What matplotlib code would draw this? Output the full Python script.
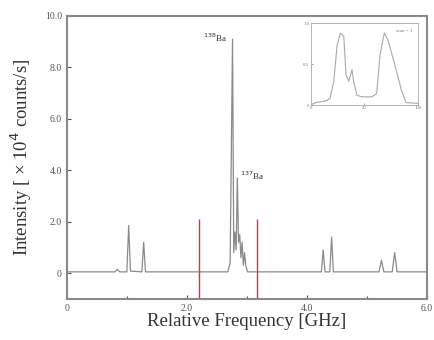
import numpy as np
from matplotlib import pyplot as plt

plt.rcParams['font.family'] = ['Liberation Serif', 'DejaVu Serif']

# spectrum (GHz, x10^4 counts/s)
freq = [0.0, 0.80, 0.84, 0.88, 1.00, 1.03, 1.06, 1.25, 1.28, 1.31,
        2.68, 2.72, 2.76, 2.78, 2.80, 2.82, 2.84, 2.86, 2.88, 2.90,
        2.92, 2.94, 2.96, 2.98, 3.01, 4.24, 4.27, 4.30, 4.38, 4.41,
        4.44, 5.20, 5.24, 5.28, 5.42, 5.46, 5.50, 6.0]
counts = [0.05, 0.05, 0.15, 0.05, 0.05, 1.85, 0.08, 0.05, 1.2, 0.05,
          0.05, 0.4, 9.1, 0.8, 1.6, 0.9, 3.7, 1.2, 1.5, 0.6,
          1.2, 0.3, 0.8, 0.3, 0.05, 0.05, 0.9, 0.05, 0.05, 1.4,
          0.05, 0.05, 0.5, 0.05, 0.05, 0.8, 0.05, 0.05]
gate = [2.2, 3.16]

# inset trace
ins_x = [0, 4.6, 13.8, 18, 21.5, 24.6, 27.7, 30.8, 32.9, 35.4, 38.5, 40,
         43, 47.7, 57, 61.5, 64.6, 68.6, 72.3, 78.5, 84.6, 89, 100]
ins_y = [0, 0.03, 0.05, 0.08, 0.29, 0.73, 0.88, 0.84, 0.37, 0.29, 0.43, 0.29,
         0.12, 0.10, 0.10, 0.14, 0.61, 0.88, 0.78, 0.49, 0.18, 0.03, 0.02]

grey = "#8a8a8a"
fig = plt.figure(figsize=(4.34, 3.40), dpi=100)
ax = fig.add_axes([0.154, 0.121, 0.830, 0.832])
ax.plot(freq, counts, color=grey, lw=0.9)
ax.vlines(gate, -1, 2.1, color="#e0303a", lw=1)
ax.set_xlim(0, 6)
ax.set_ylim(-1, 10)
ax.set_xticks([0, 2, 4, 6])
ax.set_xticklabels(["0", "2.0", "4.0", "6.0"])
ax.set_xticks([1, 3, 5], minor=True)
ax.set_yticks([0, 2, 4, 6, 8, 10])
ax.set_yticklabels(["0", "2.0", "4.0", "6.0", "8.0", "10.0"])
ax.tick_params(direction="in", labelsize=7, colors="#555555", length=3, width=0.8)
ax.tick_params(which="minor", direction="in", length=2, width=0.8, colors="#555555")
for s in ax.spines.values():
    s.set_color(grey)
    s.set_linewidth(1.5)
ax.set_xlabel("Relative Frequency [GHz]", fontsize=13.5, color="#333333", labelpad=0)
ax.set_ylabel("Intensity [ × 10$^4$ counts/s]", fontsize=13.5, color="#333333", labelpad=8)
ax.text(2.68, 9.15, "$^{138}$Ba", fontsize=6.5, ha="right", va="center", color="#333333")
ax.text(2.88, 3.8, "$^{137}$Ba", fontsize=6.5, ha="left", va="center", color="#333333")

ins = fig.add_axes([0.716, 0.691, 0.247, 0.241])
ins.plot(ins_x, ins_y, color="#aaaaaa", lw=0.8)
ins.set_xlim(0, 100)
ins.set_ylim(0, 1)
ins.set_xticks([0, 50, 100])
ins.set_yticks([0, 0.5, 1.0])
ins.set_yticklabels(["0", "0.5", "1.0"])
ins.tick_params(direction="in", labelsize=3.5, colors="#777777", length=1.5, width=0.5, pad=1)
for s in ins.spines.values():
    s.set_color("#aaaaaa")
    s.set_linewidth(0.6)
ins.text(0.95, 0.9, "scan = 1", fontsize=3.5, ha="right", va="center",
         color="#777777", transform=ins.transAxes)

fig.savefig("out.png", dpi=100)
